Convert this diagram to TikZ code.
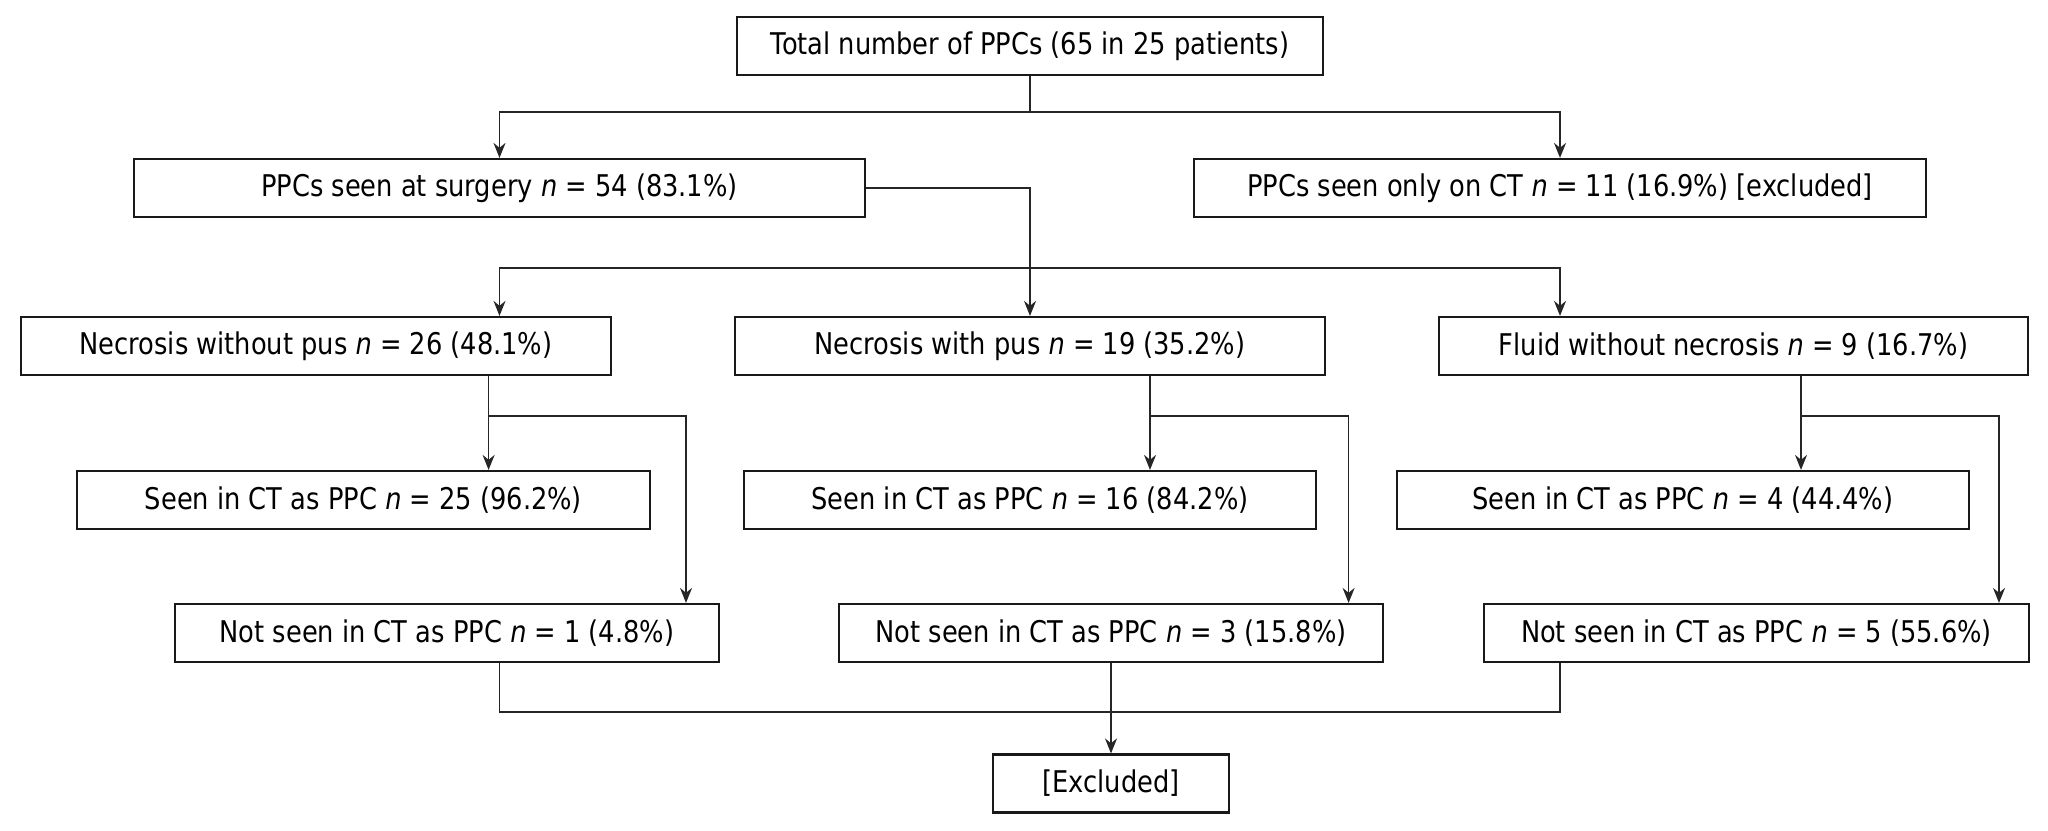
\documentclass[tikz,border=0pt]{standalone}
\usepackage{fontspec}
\setmainfont{DejaVu Sans}[FakeStretch=0.86]
\usetikzlibrary{arrows.meta}

\begin{document}
\begin{tikzpicture}[x=0.01cm, y=-0.01cm, line width=0.5pt, draw=black!85,
    box/.style={draw=black!90, line width=0.6pt, minimum height=0.58cm, inner sep=0pt, font=\fontsize{8.5}{9}\selectfont},
    arr/.style={-{Stealth[length=0.15cm, width=0.12cm]}}]
  \useasboundingbox (0,0) rectangle (2048,831);
  % top levels
  \node[box, minimum width=5.86cm] (total) at (1030,46) {Total number of PPCs (65 in 25 patients)};
  \node[box, minimum width=7.31cm] (surgery) at (499.5,188) {PPCs seen at surgery \textit{n} = 54 (83.1\%)};
  \node[box, minimum width=7.31cm] (ctonly) at (1560,188) {PPCs seen only on CT \textit{n} = 11 (16.9\%) [excluded]};
  % findings at surgery
  \node[box, minimum width=5.89cm] (nopus) at (316,346) {Necrosis without pus \textit{n} = 26 (48.1\%)};
  \node[box, minimum width=5.89cm] (pus) at (1030,346) {Necrosis with pus \textit{n} = 19 (35.2\%)};
  \node[box, minimum width=5.89cm] (fluid) at (1733.5,346) {Fluid without necrosis \textit{n} = 9 (16.7\%)};
  % CT
  \node[box, minimum width=5.73cm] (seenA) at (363.5,500) {Seen in CT as PPC \textit{n} = 25 (96.2\%)};
  \node[box, minimum width=5.72cm] (seenB) at (1030,500) {Seen in CT as PPC \textit{n} = 16 (84.2\%)};
  \node[box, minimum width=5.72cm] (seenC) at (1683,500) {Seen in CT as PPC \textit{n} = 4 (44.4\%)};
  \node[box, minimum width=5.44cm] (notA) at (447,633) {Not seen in CT as PPC \textit{n} = 1 (4.8\%)};
  \node[box, minimum width=5.44cm] (notB) at (1111,633) {Not seen in CT as PPC \textit{n} = 3 (15.8\%)};
  \node[box, minimum width=5.44cm] (notC) at (1756.5,633) {Not seen in CT as PPC \textit{n} = 5 (55.6\%)};
  \node[box, minimum width=2.35cm] (excl) at (1111,783.5) {[Excluded]};

  % connectors
  \coordinate (jTop) at (1030,112);
  \coordinate (jMid) at (1030,268);
  \coordinate (jLow) at (1111,712);
  \draw (total.south) -- (jTop);
  \draw[arr] (jTop) -| (surgery.north);
  \draw[arr] (jTop) -| (ctonly.north);
  \draw (surgery.east) -| (jMid);
  \draw[arr] (jMid) -| (nopus.north -| surgery);
  \draw[arr] (jMid) -- (pus.north);
  \draw[arr] (jMid) -| (fluid.north -| ctonly);
  \foreach \row/\seen/\not/\dx/\bx in {nopus/seenA/notA/488.6/686, pus/seenB/notB/1150/1348.6, fluid/seenC/notC/1801/1999} {
    \coordinate (d) at (\dx,0);
    \coordinate (b) at (\bx,416);
    \draw[arr] (\row.south -| d) -- (\seen.north -| d);
    \draw[arr] (d |- b) -- (b) -- (\not.north -| b);
  }
  \draw (notA.south -| surgery) |- (jLow) -| (notC.south -| ctonly);
  \draw[arr] (notB.south) -- (excl.north);
\end{tikzpicture}
\end{document}
